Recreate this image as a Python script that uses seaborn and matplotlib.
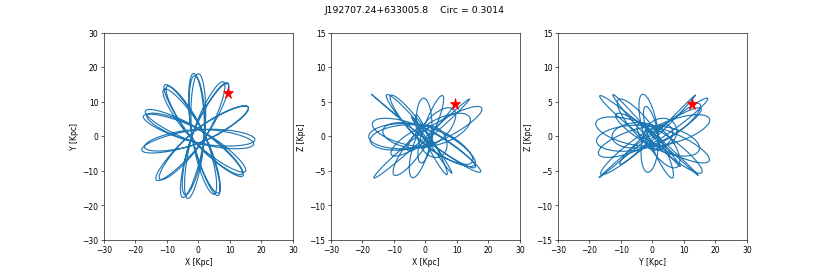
"""Orbit of J192707.24+633005.8 in three projections (XY, XZ, YZ)."""

import math

import matplotlib

matplotlib.use("Agg")
import matplotlib.pyplot as plt
import numpy as np
import seaborn as sns

STAR_NAME = "J192707.24+633005.8"
CIRC = 0.3014

# present-day position (kpc)
STAR_POS = [9.4, 12.6, 4.7]
# velocity guessed so the orbit fills the same box: tangential / radial (km/s),
# tilt of the orbital plane (deg)
V_TAN, V_RAD, INCL = 44.0, 102.0, 28.0
T_INT = 6.5      # integration time, kpc/(km/s) ~ 0.98 Gyr
DT = 0.0001

# flattened cored logarithmic halo
V0, RC, Q = 230.0, 6.0, 0.95

PANELS = [("X [Kpc]", "Y [Kpc]", 0, 1, (-30, 30)),
          ("X [Kpc]", "Z [Kpc]", 0, 2, (-15, 15)),
          ("Y [Kpc]", "Z [Kpc]", 1, 2, (-15, 15))]


def start_velocity():
    r = np.array(STAR_POS)
    rhat = r / np.linalg.norm(r)
    inc = math.radians(INCL)
    phi0 = math.atan2(r[1], r[0])
    amp = math.hypot(r[0], r[1])
    phi = phi0 + math.acos(-r[2] * math.cos(inc) / (math.sin(inc) * amp))
    n = np.array([math.sin(inc) * math.cos(phi), math.sin(inc) * math.sin(phi), math.cos(inc)])
    t = np.cross(n, rhat)
    return V_TAN * t / np.linalg.norm(t) + V_RAD * rhat


def accel(x, y, z):
    f = -V0 * V0 / (RC * RC + x * x + y * y + z * z / (Q * Q))
    return f * x, f * y, f * z / (Q * Q)


def integrate():
    x, y, z = STAR_POS
    vx, vy, vz = start_velocity()
    n = int(T_INT / DT)
    out = np.empty((n, 3))
    ax, ay, az = accel(x, y, z)
    for i in range(n):
        out[i] = x, y, z
        vx += 0.5 * DT * ax; vy += 0.5 * DT * ay; vz += 0.5 * DT * az
        x += DT * vx; y += DT * vy; z += DT * vz
        ax, ay, az = accel(x, y, z)
        vx += 0.5 * DT * ax; vy += 0.5 * DT * ay; vz += 0.5 * DT * az
    return out[::4]


orbit = integrate()

fig, axes = plt.subplots(1, 3, figsize=(15, 5), dpi=830 / 15)
fig.subplots_adjust(left=0.125, right=0.9, top=0.88, bottom=0.13, wspace=0.2)
for ax, (xl, yl, i, j, ylim) in zip(axes, PANELS):
    sns.lineplot(x=orbit[:, i], y=orbit[:, j], sort=False, estimator=None,
                 color="#1f77b4", lw=1.5, ax=ax)
    ax.plot(STAR_POS[i], STAR_POS[j], marker="*", color="red", ms=15, ls="none")
    ax.set_xlim(-30, 30)
    ax.set_ylim(*ylim)
    ax.set_xlabel(xl)
    ax.set_ylabel(yl)

fig.suptitle(f"{STAR_NAME}    Circ = {CIRC:.4f}")
fig.savefig("out.png", dpi=830 / 15)
